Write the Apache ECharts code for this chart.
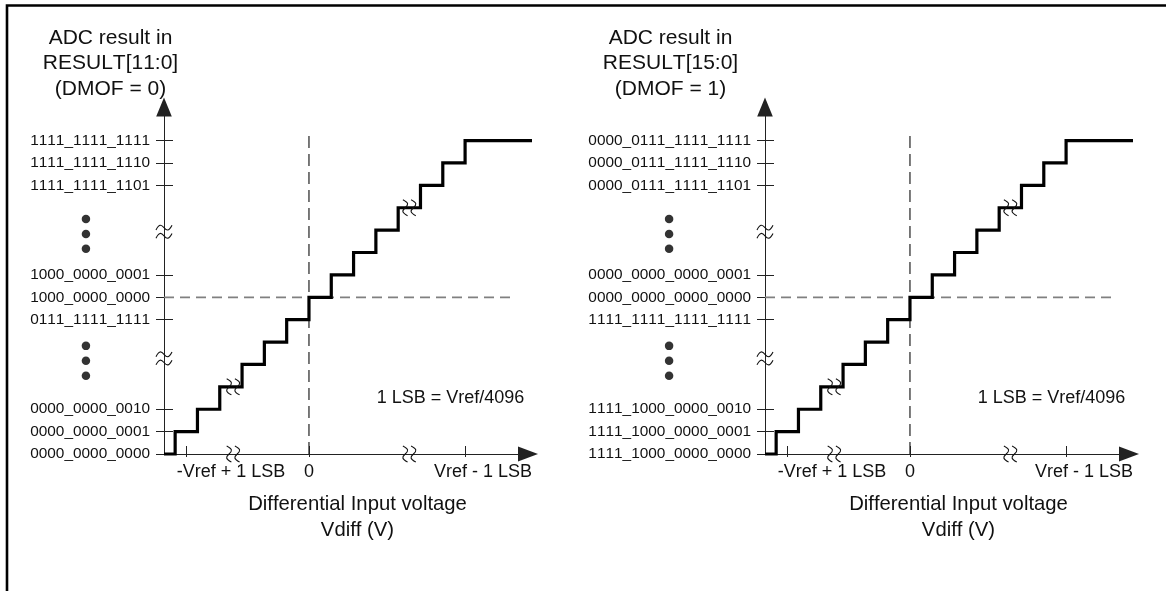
<!DOCTYPE html>
<html><head><meta charset="utf-8">
<script src="https://cdn.jsdelivr.net/npm/echarts@6/dist/echarts.min.js"></script>
<style>html,body{margin:0;padding:0;background:#fff}#c{width:1166px;height:591px}</style>
</head><body><div id="c"></div>
<script>
// ---- data ----
const stairX = [-6.5, -6, -5, -4, -3, -2, -1, 0, 1, 2, 3, 4, 5, 6, 7, 10];
const stairY = [0, 1, 2, 3, 4, 5, 6, 7, 8, 9, 10, 11, 12, 13, 14, 14];
const yTickLevels = [0, 1, 2, 6, 7, 8, 12, 13, 14];
const yLabelsLeft = ['0000_0000_0000', '0000_0000_0001', '0000_0000_0010',
  '0111_1111_1111', '1000_0000_0000', '1000_0000_0001',
  '1111_1111_1101', '1111_1111_1110', '1111_1111_1111'];
const yLabelsRight = ['1111_1000_0000_0000', '1111_1000_0000_0001', '1111_1000_0000_0010',
  '1111_1111_1111_1111', '0000_0000_0000_0000', '0000_0000_0000_0001',
  '0000_0111_1111_1101', '0000_0111_1111_1110', '0000_0111_1111_1111'];
const xTickValues = [-5.5, 0, 7];
const xLabelValues = [-3.5, 0, 7.8];
const xLabelTexts = ['-Vref + 1 LSB', '0', 'Vref - 1 LSB'];
const zeroLineV = [[0, 0], [0, 14.33]];
const zeroLineH = [[-6.5, 7], [9.15, 7]];
const dotLevels = [10.5, 9.83, 9.17, 4.83, 4.17, 3.5];
const breakMarks = [[-6.5, 9.93, 0], [-6.5, 4.27, 0], [-3.4, 0, 1], [4.5, 0, 1], [-3.4, 3, 1], [4.5, 11, 1]];
const titlesLeft = 'ADC result in\nRESULT[11:0]\n(DMOF = 0)';
const titlesRight = 'ADC result in\nRESULT[15:0]\n(DMOF = 1)';
const xName = 'Differential Input voltage\nVdiff (V)';
const lsbNote = '1 LSB = Vref/4096';

// text without pair kerning (the reference sets digits on a fixed pitch)
(function () {
  const P = CanvasRenderingContext2D.prototype;
  const ft = P.fillText, mt = P.measureText;
  P.fillText = function () { try { this.fontKerning = 'none'; } catch (e) {} return ft.apply(this, arguments); };
  P.measureText = function () { try { this.fontKerning = 'none'; } catch (e) {} return mt.apply(this, arguments); };
})();

// ---- chart ----
const FONT = "'Liberation Sans', Arial, sans-serif";
const INK = '#111';
const chart = echarts.init(document.getElementById('c'), null, {renderer: 'canvas'});

const TILDE2 = 'M0,4 C3,-1 5,-1 8,2 C11,5 13,5 16,0 M0,11 C3,6 5,6 8,9 C11,12 13,12 16,7';

const grids = [], xAxes = [], yAxes = [], series = [];
const panels = [
  {left: 164, labels: yLabelsLeft, dotX: -10},
  {left: 765, labels: yLabelsRight, dotX: -10.8}
];
const stairData = stairX.map((x, i) => [x, stairY[i]]);

panels.forEach((p, i) => {
  grids.push({left: p.left, top: 107, width: 368, height: 347, containLabel: false, outerBoundsMode: 'none'});
  const yMap = {};
  yTickLevels.forEach((v, k) => { yMap[v] = p.labels[k]; });
  const xMap = {};
  xLabelValues.forEach((v, k) => { xMap[v] = xLabelTexts[k]; });
  const axisLineStyle = {color: '#222', width: 1};
  xAxes.push({
    gridIndex: i, type: 'value', min: -6.5, max: 10, position: 'bottom',
    axisLine: {onZero: false, symbol: ['none', 'triangle'], symbolSize: [15, 20], symbolOffset: [0, -4], lineStyle: axisLineStyle},
    axisTick: {length: 3, customValues: xTickValues, lineStyle: axisLineStyle},
    axisLabel: {customValues: xLabelValues, formatter: v => xMap[v] ?? '', margin: 9,
      fontSize: 18, fontFamily: FONT, color: INK, lineHeight: 18},
    splitLine: {show: false}
  });
  xAxes.push({
    gridIndex: i, type: 'value', min: -6.5, max: 10, position: 'bottom',
    axisLine: {show: false, onZero: false},
    axisTick: {inside: true, length: 8, customValues: xTickValues, lineStyle: axisLineStyle},
    axisLabel: {show: false}, splitLine: {show: false}
  });
  yAxes.push({
    gridIndex: i, type: 'value', min: 0, max: 15.5, position: 'left',
    axisLine: {show: true, onZero: false, symbol: ['none', 'triangle'], symbolSize: [15.6, 19], lineStyle: axisLineStyle},
    axisTick: {length: 8, customValues: yTickLevels, lineStyle: axisLineStyle},
    axisLabel: {customValues: yTickLevels, formatter: v => yMap[v] ?? '', margin: 14,
      fontSize: 15.4, fontFamily: FONT, color: INK},
    splitLine: {show: false}
  });
  yAxes.push({
    gridIndex: i, type: 'value', min: 0, max: 15.5, position: 'left',
    axisLine: {show: false, onZero: false},
    axisTick: {inside: true, length: 9, customValues: yTickLevels, lineStyle: axisLineStyle},
    axisLabel: {show: false}, splitLine: {show: false}
  });
  const xi = 2 * i, yi = 2 * i;
  series.push({
    type: 'line', xAxisIndex: xi, yAxisIndex: yi, data: zeroLineH, showSymbol: false, silent: true,
    lineStyle: {color: '#808080', width: 1.8, type: [10, 6]}, z: 1, clip: false
  });
  series.push({
    type: 'line', xAxisIndex: xi, yAxisIndex: yi, data: zeroLineV, showSymbol: false, silent: true,
    lineStyle: {color: '#222', width: 1.2, type: [12, 6]}, z: 1, clip: false
  });
  series.push({
    type: 'line', xAxisIndex: xi, yAxisIndex: yi, data: stairData, step: 'end', showSymbol: false, silent: true,
    lineStyle: {color: '#000', width: 3.2, join: 'miter', cap: 'butt'}, z: 3, clip: false
  });
  series.push({
    type: 'scatter', xAxisIndex: xi, yAxisIndex: yi, data: dotLevels.map(v => [p.dotX, v]),
    symbol: 'circle', symbolSize: 8.5, itemStyle: {color: '#000'}, silent: true, clip: false, z: 4
  });
  series.push({
    type: 'custom', xAxisIndex: xi, yAxisIndex: yi, data: breakMarks, clip: false, silent: true, z: 5,
    encode: {x: 0, y: 1},
    renderItem: (params, api) => {
      const pt = api.coord([api.value(0), api.value(1)]);
      return {
        type: 'path', x: pt[0], y: pt[1], rotation: api.value(2) * Math.PI / 2,
        shape: {pathData: TILDE2, x: -8, y: -6.5, width: 16, height: 13, layout: 'cover'},
        style: {stroke: INK, fill: 'none', lineWidth: 1.1}
      };
    }
  });
});

const txt = (x, y, text, size, align, va, lh) => ({
  type: 'text', x, y, silent: true,
  style: {text, fontSize: size, fontFamily: FONT, fill: INK, align, verticalAlign: va, lineHeight: lh}
});

chart.setOption({
  animation: false,
  backgroundColor: '#fff',
  grid: grids, xAxis: xAxes, yAxis: yAxes, series,
  graphic: [
    {type: 'polyline', silent: true, shape: {points: [[7, 600], [7, 5.5], [1175, 5.5]]},
      style: {stroke: '#000', lineWidth: 2.6, fill: 'none'}},
    txt(110.5, 25.3, titlesLeft, 21, 'center', 'top', 25.5),
    txt(670.5, 25.3, titlesRight, 21, 'center', 'top', 25.5),
    txt(357.5, 491, xName, 20.3, 'center', 'top', 26),
    txt(958.5, 491, xName, 20.3, 'center', 'top', 26),
    txt(376.7, 398, lsbNote, 18, 'left', 'middle', 18),
    txt(977.7, 398, lsbNote, 18, 'left', 'middle', 18)
  ]
});
</script></body></html>
